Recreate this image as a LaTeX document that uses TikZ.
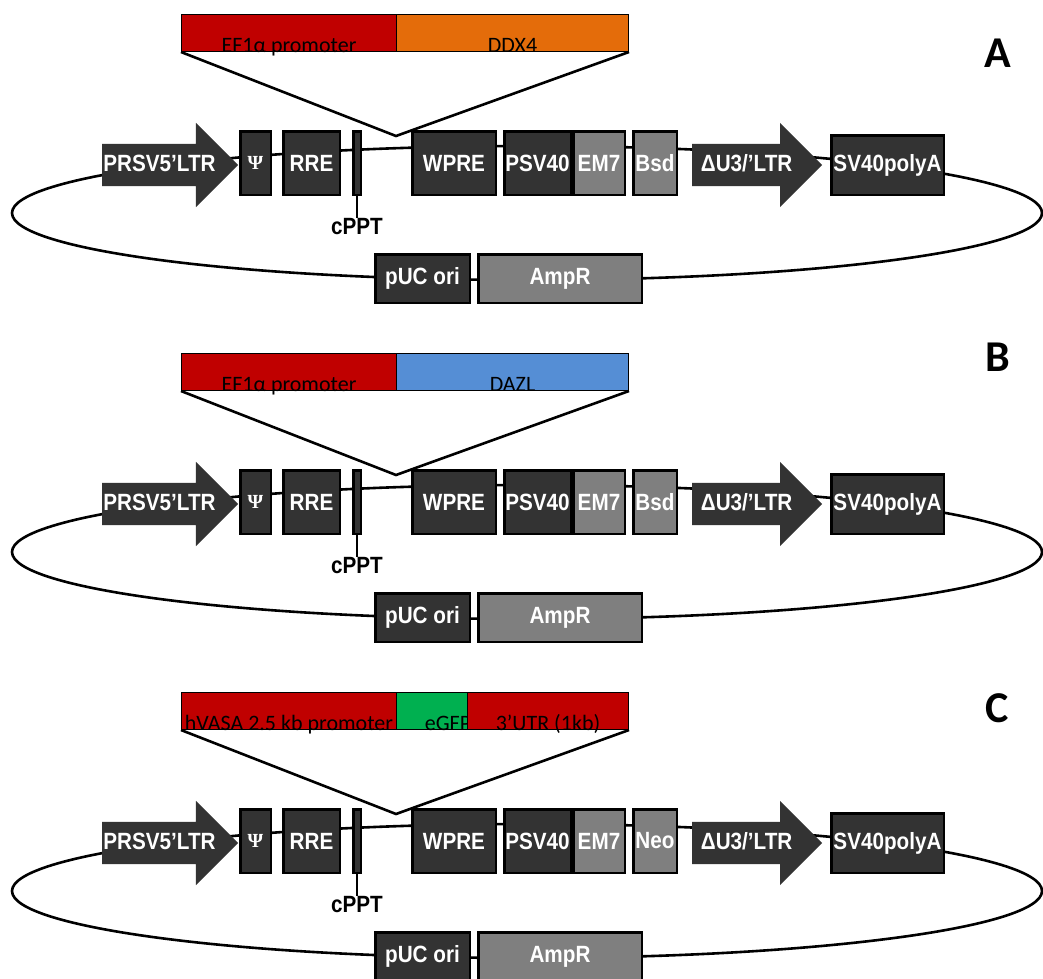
\documentclass[tikz,border=0pt]{standalone}
\usepackage{fontspec}
\setmainfont{Liberation Sans}
\newfontfamily\boxfont[FakeStretch=0.88]{Liberation Sans}
\newfontfamily\calibri{Carlito}
\newfontfamily\psifont{Liberation Serif}
\usetikzlibrary{positioning}
\usetikzlibrary{shapes.arrows}
\definecolor{boxDark}{HTML}{333333}
\definecolor{boxLight}{HTML}{7F7F7F}
\definecolor{insRed}{HTML}{C00000}
\definecolor{insOrange}{HTML}{E46C0A}
\definecolor{insBlue}{HTML}{558ED5}
\definecolor{insGreen}{HTML}{00B050}
\tikzset{
  backbone/.style={line width=2.6pt},
  element/.style={draw=black, line width=2.5pt, fill=boxDark, text=white, inner sep=0pt,
    font=\boxfont\bfseries\fontsize{23.5}{23.5}\selectfont, minimum height=63.5pt},
  marker/.style={element, fill=boxLight},
  ltrarrow/.style={single arrow, single arrow head extend=21pt, fill=boxDark, text=white,
    font=\boxfont\bfseries\fontsize{23.5}{23.5}\selectfont, minimum height=130pt,
    text height=16pt, text depth=4pt, inner ysep=11pt, inner xsep=1pt},
  insert/.style={draw=black, line width=1pt, minimum height=37pt, inner sep=0pt, anchor=north west},
  inslabel/.style={font=\calibri\fontsize{22}{22}\selectfont, anchor=base, inner sep=0pt},
  panel/.style={font=\calibri\bfseries\fontsize{44}{44}\selectfont, inner sep=0pt},
}
\begin{document}
\begin{tikzpicture}[x=1pt, y=-1pt]
	\useasboundingbox (0,0) rectangle (1043,978);
	\clip (0,0) rectangle (1043,978);

	% vector backbone, same for the three constructs
	\foreach \p/\dy/\res in {A/0/Bsd, B/339/Bsd, C/678/Neo}{
		\begin{scope}[shift={(0,\dy)}]
			\draw[backbone] (527,213) ellipse [x radius=515, y radius=67];
			\node[ltrarrow, anchor=tail] (\p-ltr5) at (102,165) {PRSV5’LTR};
			\node[element, minimum width=30.5pt] (\p-psi) at (255.5,163) {\psifont\bfseries\fontsize{20}{20}\selectfont Ψ};
			\node[element, minimum width=56.5pt] (\p-rre) at (311.5,163) {RRE};
			\node[element, minimum width=7.5pt] (\p-cppt) at (357,163) {};
			\node[anchor=north, inner sep=0pt, font=\boxfont\bfseries\fontsize{23.5}{23.5}\selectfont] (\p-cpptlbl) at (357,218) {cPPT};
			\draw[backbone] (\p-cppt.south) -- (\p-cpptlbl.north);
			\node[element, minimum width=83.5pt] (\p-wpre) at (454,163) {WPRE};
			\node[element, minimum width=66.5pt] (\p-psv) at (537.5,163) {PSV40};
			\node[marker, minimum width=51.5pt] (\p-em) at (599,163) {EM7};
			\node[marker, minimum width=43.5pt] (\p-res) at (655,163) {\res};
			\node[ltrarrow, anchor=tail] (\p-ltr3) at (692,165) {ΔU3/’LTR};
			\node[element, minimum width=112.5pt, minimum height=59.5pt] (\p-polya) at (887.5,165) {SV40polyA};
			\node[element, minimum width=94.5pt, minimum height=48.5pt] (\p-puc) at (422.5,278.5) {pUC ori};
			\node[marker, minimum width=163.5pt, minimum height=48.5pt] (\p-amp) at (560,278.5) {AmpR};
			\coordinate (\p-vtip) at (396,136);
		\end{scope}
	}

	% A: EF1a-DDX4
	\node[insert, fill=insRed, minimum width=215pt] (aprom) at (181,14) {};
	\node[inslabel] (aproml) at (aprom.south) {EF1α promoter};
	\node[insert, fill=insOrange, minimum width=232pt] (agene) at (396,14) {};
	\node[inslabel] (agenel) at (agene.south) {DDX4};
	\draw[backbone] (aprom.south west) -- (A-vtip) -- (agene.south east);
	\node[panel] (lblA) at (998,53) {A};

	% B: EF1a-DAZL
	\node[insert, fill=insRed, minimum width=215pt] (bprom) at (181,353) {};
	\node[inslabel] (bproml) at (bprom.south) {EF1α promoter};
	\node[insert, fill=insBlue, minimum width=232pt] (bgene) at (396,353) {};
	\node[inslabel] (bgenel) at (bgene.south) {DAZL};
	\draw[backbone] (bprom.south west) -- (B-vtip) -- (bgene.south east);
	\node[panel] (lblB) at (998,357) {B};

	% C: hVASA-eGFP-3'UTR
	\node[insert, fill=insRed, minimum width=215pt] (cprom) at (181,692) {};
	\node[inslabel] (cproml) at (cprom.south) {hVASA 2.5 kb promoter};
	\node[insert, fill=insGreen, minimum width=71pt] (cgfp) at (396,692) {};
	\node[inslabel] (cgfpl) at ([xshift=16pt]cgfp.south) {eGFP};
	\node[insert, fill=insRed, minimum width=161pt] (cutr) at (467,692) {};
	\node[inslabel] (cutrl) at (cutr.south) {3’UTR (1kb)};
	\draw[backbone] (cprom.south west) -- (C-vtip) -- (cutr.south east);
	\node[panel] (lblC) at (997,708) {C};
\end{tikzpicture}
\end{document}
